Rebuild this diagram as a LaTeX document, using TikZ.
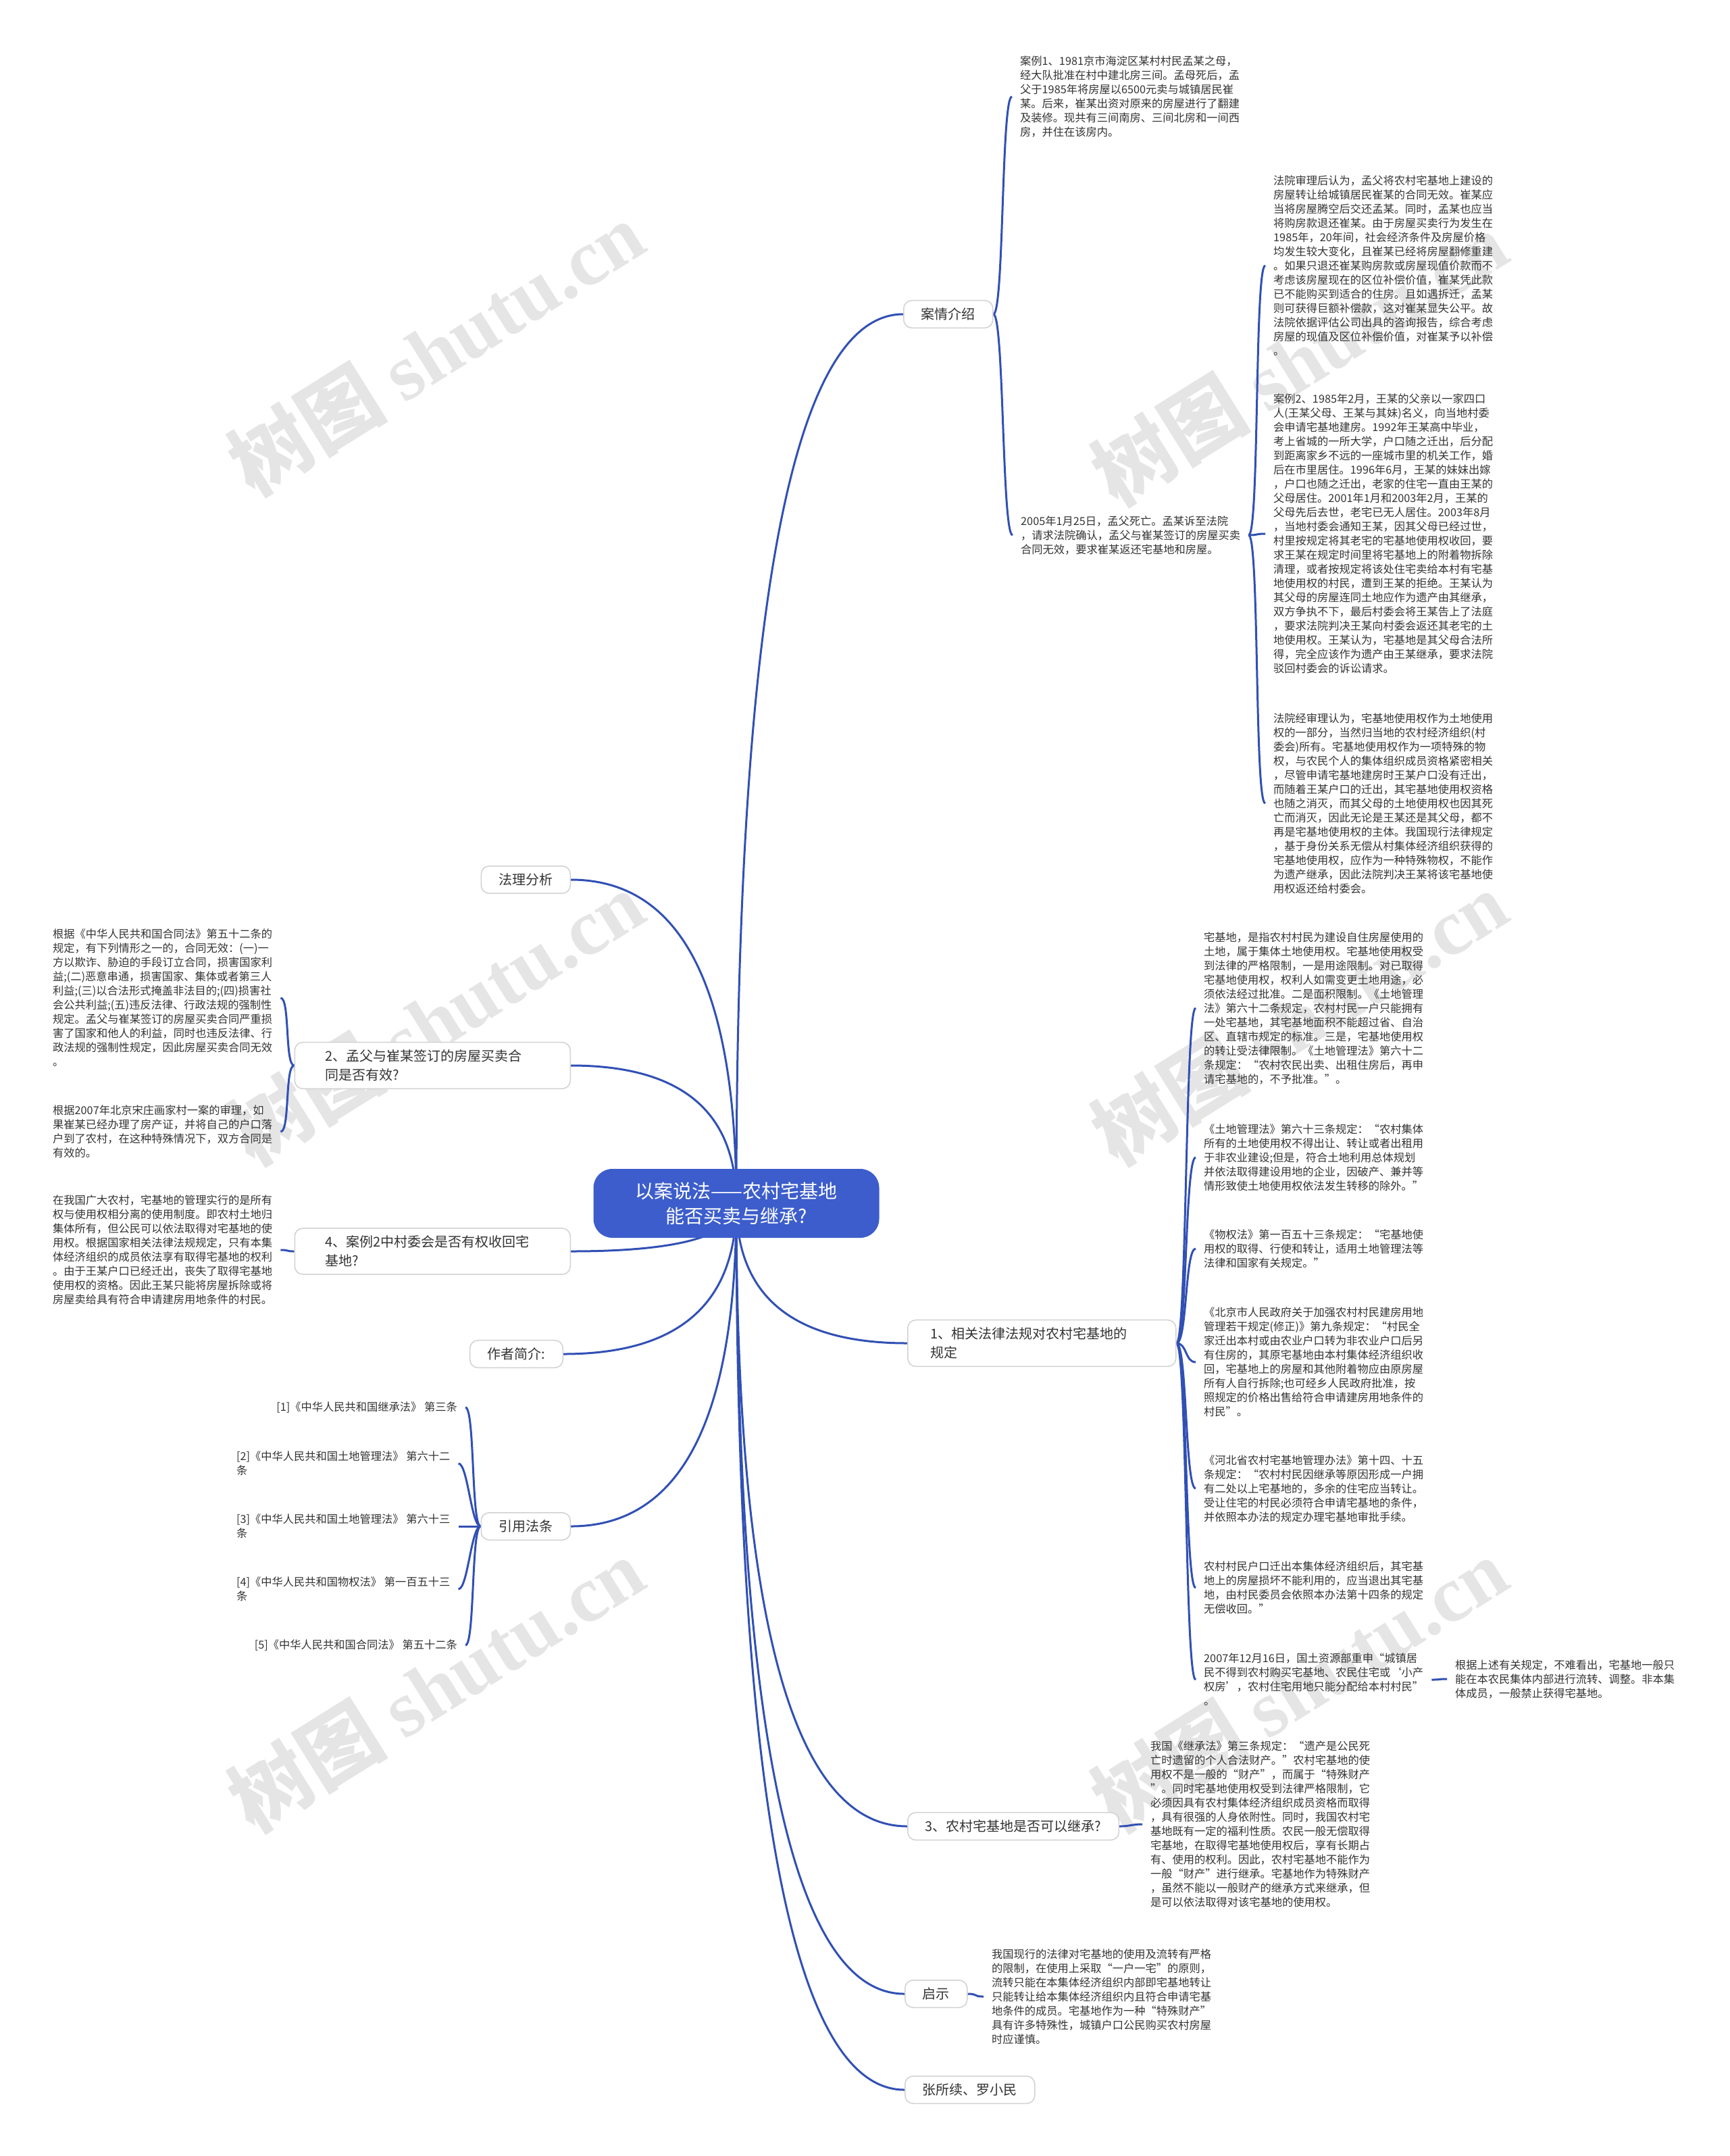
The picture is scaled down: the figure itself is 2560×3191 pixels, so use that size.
\documentclass[tikz,border=0pt]{standalone}
\usepackage{fontspec}
\setmainfont{Noto Sans CJK SC}
\newfontfamily\wmserif{Liberation Serif}
\usetikzlibrary{calc,backgrounds}
\definecolor{lineblue}{HTML}{3150B4}
\definecolor{centerblue}{HTML}{3C5DCB}
\definecolor{txtgray}{HTML}{333333}
\begin{document}
\begin{tikzpicture}[x=1pt,y=-1pt,
  conn/.style={draw=lineblue, line width=3pt},
  leaf/.style={font=\fontsize{16.25}{21}\selectfont, text=txtgray, align=left, inner xsep=12pt, inner ysep=0pt, anchor=west},
  topic/.style={font=\fontsize{20}{28}\selectfont, text=txtgray, align=left, draw=black!18, line width=1.5pt, rounded corners=12pt, fill=white, inner xsep=26pt, inner ysep=11pt},
  root/.style={font=\fontsize{28}{37}\selectfont, text=white, align=center, fill=centerblue, rounded corners=28pt, minimum width=423pt, minimum height=102pt},
  wmark/.style={rotate=32, text=black!10, font=\fontsize{118}{118}\selectfont\bfseries}]
\useasboundingbox (0,0) rectangle (2560,3191);

% watermarks
\begin{scope}[on background layer]
\foreach \wx/\wy in {645/515, 1923/530, 645/1506, 1923/1506, 645/2493, 1923/2493}
  \node[wmark] at (\wx,\wy) {树图 {\wmserif\bfseries shutu.cn}};
\end{scope}

% root
\node[root] (c) at (1090,1781) {以案说法——农村宅基地\\能否买卖与继承?};

% level-1 topics, right
\node[topic, anchor=west] (n1) at (1337,465) {案情介绍};
\node[topic, anchor=west, text width=329pt, inner xsep=34pt] (n2) at (1343,1988) {1、相关法律法规对农村宅基地的\\规定};
\node[topic, anchor=west] (n3) at (1343,2703) {3、农村宅基地是否可以继承?};
\node[topic, anchor=west] (n4) at (1339,2951) {启示};
\node[topic, anchor=west] (n5) at (1339,3093) {张所续、罗小民};
% level-1 topics, left
\node[topic, anchor=east] (m1) at (845,1302) {法理分析};
\node[topic, anchor=east, text width=318pt, inner xsep=45pt] (m2) at (845,1577) {2、孟父与崔某签订的房屋买卖合\\同是否有效?};
\node[topic, anchor=east, text width=318pt, inner xsep=45pt] (m3) at (845,1852) {4、案例2中村委会是否有权收回宅\\基地?};
\node[topic, anchor=east] (m4) at (834,2004) {作者简介:};
\node[topic, anchor=east] (m5) at (845,2259) {引用法条};

% leaves under 案情介绍
\node[leaf] (A) at (1498,143) {案例1、1981京市海淀区某村村民孟某之母，\\经大队批准在村中建北房三间。孟母死后，孟\\父于1985年将房屋以6500元卖与城镇居民崔\\某。后来，崔某出资对原来的房屋进行了翻建\\及装修。现共有三间南房、三间北房和一间西\\房，并住在该房内。};
\node[leaf] (B) at (1499,792) {2005年1月25日，孟父死亡。孟某诉至法院\\，请求法院确认，孟父与崔某签订的房屋买卖\\合同无效，要求崔某返还宅基地和房屋。};
\node[leaf] (C) at (1873,393) {法院审理后认为，孟父将农村宅基地上建设的\\房屋转让给城镇居民崔某的合同无效。崔某应\\当将房屋腾空后交还孟某。同时，孟某也应当\\将购房款退还崔某。由于房屋买卖行为发生在\\1985年，20年间，社会经济条件及房屋价格\\均发生较大变化，且崔某已经将房屋翻修重建\\。如果只退还崔某购房款或房屋现值价款而不\\考虑该房屋现在的区位补偿价值，崔某凭此款\\已不能购买到适合的住房。且如遇拆迁，孟某\\则可获得巨额补偿款，这对崔某显失公平。故\\法院依据评估公司出具的咨询报告，综合考虑\\房屋的现值及区位补偿价值，对崔某予以补偿\\。};
\node[leaf] (D) at (1873,790) {案例2、1985年2月，王某的父亲以一家四口\\人(王某父母、王某与其妹)名义，向当地村委\\会申请宅基地建房。1992年王某高中毕业，\\考上省城的一所大学，户口随之迁出，后分配\\到距离家乡不远的一座城市里的机关工作，婚\\后在市里居住。1996年6月，王某的妹妹出嫁\\，户口也随之迁出，老家的住宅一直由王某的\\父母居住。2001年1月和2003年2月，王某的\\父母先后去世，老宅已无人居住。2003年8月\\，当地村委会通知王某，因其父母已经过世，\\村里按规定将其老宅的宅基地使用权收回，要\\求王某在规定时间里将宅基地上的附着物拆除\\清理，或者按规定将该处住宅卖给本村有宅基\\地使用权的村民，遭到王某的拒绝。王某认为\\其父母的房屋连同土地应作为遗产由其继承，\\双方争执不下，最后村委会将王某告上了法庭\\，要求法院判决王某向村委会返还其老宅的土\\地使用权。王某认为，宅基地是其父母合法所\\得，完全应该作为遗产由王某继承，要求法院\\驳回村委会的诉讼请求。};
\node[leaf] (E) at (1873,1189) {法院经审理认为，宅基地使用权作为土地使用\\权的一部分，当然归当地的农村经济组织(村\\委会)所有。宅基地使用权作为一项特殊的物\\权，与农民个人的集体组织成员资格紧密相关\\，尽管申请宅基地建房时王某户口没有迁出，\\而随着王某户口的迁出，其宅基地使用权资格\\也随之消灭，而其父母的土地使用权也因其死\\亡而消灭，因此无论是王某还是其父母，都不\\再是宅基地使用权的主体。我国现行法律规定\\，基于身份关系无偿从村集体经济组织获得的\\宅基地使用权，应作为一种特殊物权，不能作\\为遗产继承，因此法院判决王某将该宅基地使\\用权返还给村委会。};

% leaves under 1、相关法律法规
\node[leaf] (F) at (1770,1492) {宅基地，是指农村村民为建设自住房屋使用的\\土地，属于集体土地使用权。宅基地使用权受\\到法律的严格限制，一是用途限制。对已取得\\宅基地使用权，权利人如需变更土地用途，必\\须依法经过批准。二是面积限制。《土地管理\\法》第六十二条规定，农村村民一户只能拥有\\一处宅基地，其宅基地面积不能超过省、自治\\区、直辖市规定的标准。三是，宅基地使用权\\的转让受法律限制。《土地管理法》第六十二\\条规定：“农村农民出卖、出租住房后，再申\\请宅基地的，不予批准。”。};
\node[leaf] (G) at (1770,1713) {《土地管理法》第六十三条规定：“农村集体\\所有的土地使用权不得出让、转让或者出租用\\于非农业建设;但是，符合土地利用总体规划\\并依法取得建设用地的企业，因破产、兼并等\\情形致使土地使用权依法发生转移的除外。”};
\node[leaf] (H) at (1770,1848) {《物权法》第一百五十三条规定：“宅基地使\\用权的取得、行使和转让，适用土地管理法等\\法律和国家有关规定。”};
\node[leaf] (I) at (1770,2016) {《北京市人民政府关于加强农村村民建房用地\\管理若干规定(修正)》第九条规定：“村民全\\家迁出本村或由农业户口转为非农业户口后另\\有住房的，其原宅基地由本村集体经济组织收\\回，宅基地上的房屋和其他附着物应由原房屋\\所有人自行拆除;也可经乡人民政府批准，按\\照规定的价格出售给符合申请建房用地条件的\\村民”。};
\node[leaf] (J) at (1770,2203) {《河北省农村宅基地管理办法》第十四、十五\\条规定：“农村村民因继承等原因形成一户拥\\有二处以上宅基地的，多余的住宅应当转让。\\受让住宅的村民必须符合申请宅基地的条件，\\并依照本办法的规定办理宅基地审批手续。};
\node[leaf] (K) at (1770,2350) {农村村民户口迁出本集体经济组织后，其宅基\\地上的房屋损坏不能利用的，应当退出其宅基\\地，由村民委员会依照本办法第十四条的规定\\无偿收回。”};
\node[leaf] (L) at (1770,2486) {2007年12月16日，国土资源部重申“城镇居\\民不得到农村购买宅基地、农民住宅或‘小产\\权房’，农村住宅用地只能分配给本村村民”\\。};
\node[leaf] (M) at (2142,2485) {根据上述有关规定，不难看出，宅基地一般只\\能在本农民集体内部进行流转、调整。非本集\\体成员，一般禁止获得宅基地。};

% leaves under 3 and 启示
\node[leaf] (N) at (1691,2700) {我国《继承法》第三条规定：“遗产是公民死\\亡时遗留的个人合法财产。”农村宅基地的使\\用权不是一般的“财产”，而属于“特殊财产\\”。同时宅基地使用权受到法律严格限制，它\\必须因具有农村集体经济组织成员资格而取得\\，具有很强的人身依附性。同时，我国农村宅\\基地既有一定的福利性质。农民一般无偿取得\\宅基地，在取得宅基地使用权后，享有长期占\\有、使用的权利。因此，农村宅基地不能作为\\一般“财产”进行继承。宅基地作为特殊财产\\，虽然不能以一般财产的继承方式来继承，但\\是可以依法取得对该宅基地的使用权。};
\node[leaf] (O) at (1456,2955) {我国现行的法律对宅基地的使用及流转有严格\\的限制，在使用上采取“一户一宅”的原则，\\流转只能在本集体经济组织内部即宅基地转让\\只能转让给本集体经济组织内且符合申请宅基\\地条件的成员。宅基地作为一种“特殊财产”\\具有许多特殊性，城镇户口公民购买农村房屋\\时应谨慎。};

% left leaves
\node[leaf] (P) at (66,1477) {根据《中华人民共和国合同法》第五十二条的\\规定，有下列情形之一的，合同无效：(一)一\\方以欺诈、胁迫的手段订立合同，损害国家利\\益;(二)恶意串通，损害国家、集体或者第三人\\利益;(三)以合法形式掩盖非法目的;(四)损害社\\会公共利益;(五)违反法律、行政法规的强制性\\规定。孟父与崔某签订的房屋买卖合同严重损\\害了国家和他人的利益，同时也违反法律、行\\政法规的强制性规定，因此房屋买卖合同无效\\。};
\node[leaf] (Q) at (66,1675) {根据2007年北京宋庄画家村一案的审理，如\\果崔某已经办理了房产证，并将自己的户口落\\户到了农村，在这种特殊情况下，双方合同是\\有效的。};
\node[leaf] (R) at (66,1850) {在我国广大农村，宅基地的管理实行的是所有\\权与使用权相分离的使用制度。即农村土地归\\集体所有，但公民可以依法取得对宅基地的使\\用权。根据国家相关法律法规规定，只有本集\\体经济组织的成员依法享有取得宅基地的权利\\。由于王某户口已经迁出，丧失了取得宅基地\\使用权的资格。因此王某只能将房屋拆除或将\\房屋卖给具有符合申请建房用地条件的村民。};

% 引用法条 leaves
\node[leaf, anchor=east] (S1) at (689,2083) {[1]《中华人民共和国继承法》 第三条};
\node[leaf] (S2) at (338,2166) {[2]《中华人民共和国土地管理法》 第六十二\\条};
\node[leaf] (S3) at (338,2259) {[3]《中华人民共和国土地管理法》 第六十三\\条};
\node[leaf] (S4) at (338,2352) {[4]《中华人民共和国物权法》 第一百五十三\\条};
\node[leaf, anchor=east] (S5) at (689,2435) {[5]《中华人民共和国合同法》 第五十二条};

% connectors
\begin{scope}[on background layer]
\foreach \n/\a in {n1/west, n2/west, n3/west, n4/west, n5/west, m1/east, m2/east, m3/east, m4/east, m5/east}
  \draw[conn] (c.center) .. controls ($(c.center)!0.667!(c.center|-\n.\a)$) and ($(\n.\a)!0.667!(c.center|-\n.\a)$) .. (\n.\a);
\foreach \p/\k in {n1/A, n1/B, B/C, B/D, B/E, n2/F, n2/G, n2/H, n2/I, n2/J, n2/K, n2/L, L/M, n3/N, n4/O}
  \draw[conn] (\p.east) .. controls +(16,0) and +(-16,0) .. (\k.west);
\foreach \p/\k in {m2/P, m2/Q, m3/R, m5/S1, m5/S2, m5/S3, m5/S4, m5/S5}
  \draw[conn] (\p.west) .. controls +(-14,0) and +(14,0) .. (\k.east);
\end{scope}
\end{tikzpicture}
\end{document}
